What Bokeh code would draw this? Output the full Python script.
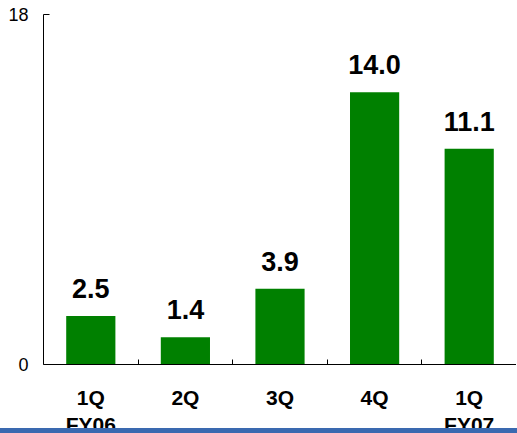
from bokeh.plotting import figure
from bokeh.models import (Range1d, FixedTicker, LinearAxis, LabelSet, ColumnDataSource, Div)
from bokeh.layouts import column
from bokeh.core.properties import value
from bokeh.embed import file_html
from bokeh.resources import INLINE

categories = ["1Q\nFY06", "2Q", "3Q", "4Q", "1Q\nFY07"]
values = [2.5, 1.4, 3.9, 14.0, 11.1]
value_labels = ["2.5", "1.4", "3.9", "14.0", "11.1"]
y_ticks = [0, 18]
y_max = 18

n = len(categories)
centers = [i + 0.5 for i in range(n)]          # category slot centres
boundaries = list(range(1, n))                  # category slot edges

src = ColumnDataSource(dict(x=centers, top=values, label=value_labels))

p = figure(x_range=Range1d(0, n), y_range=Range1d(0, y_max),
           frame_width=473, frame_height=350, output_backend="svg", toolbar_location=None,
           x_axis_location=None, min_border_left=43, min_border_top=14,
           min_border_right=0, min_border_bottom=0)

p.vbar(x="x", top="top", width=0.52, source=src, fill_color="#008000", line_color=None)

labels = LabelSet(x="x", y="top", text="label", source=src, text_align="center",
                  text_baseline="alphabetic", y_offset=18, text_font=value("Liberation Sans"),
                  text_font_style="bold", text_font_size="27px", text_color="black")
p.add_layout(labels)

# y axis
ya = p.yaxis[0]
ya.ticker = FixedTicker(ticks=y_ticks)
ya.major_tick_in = 6
ya.major_tick_out = 0
ya.minor_tick_line_color = None
ya.axis_line_color = "black"
ya.major_tick_line_color = "black"
ya.major_label_text_font = "Liberation Sans"
ya.major_label_text_font_size = "18px"
ya.major_label_text_color = "black"
ya.major_label_standoff = 15

# x axis: ticks at category boundaries
tick_axis = LinearAxis(ticker=FixedTicker(ticks=boundaries),
                       major_label_overrides={b: "" for b in boundaries},
                       major_tick_in=5, major_tick_out=0, minor_tick_line_color=None,
                       major_label_text_font_size="1px", major_label_standoff=0,
                       axis_line_color="black", major_tick_line_color="black")
p.add_layout(tick_axis, "below")

# x axis: category names at slot centres
cat_axis = LinearAxis(ticker=FixedTicker(ticks=centers),
                      major_label_overrides={c: name for c, name in zip(centers, categories)},
                      axis_line_color=None, major_tick_line_color=None,
                      minor_tick_line_color=None, major_label_standoff=15,
                      major_label_text_font="Liberation Sans",
                      major_label_text_font_style="bold",
                      major_label_text_font_size="21px",
                      major_label_text_color="black",
                      major_label_text_line_height=1.2)
p.add_layout(cat_axis, "below")

p.xgrid.visible = False
p.ygrid.visible = False
p.outline_line_color = None

band = Div(text='<div style="position:fixed;left:0;top:428px;width:517px;height:5px;'
                'background:#3A69B0;z-index:10;"></div>', width=10, height=1)

layout = column(p, band)
open("out.html", "w").write(file_html(layout, INLINE))
